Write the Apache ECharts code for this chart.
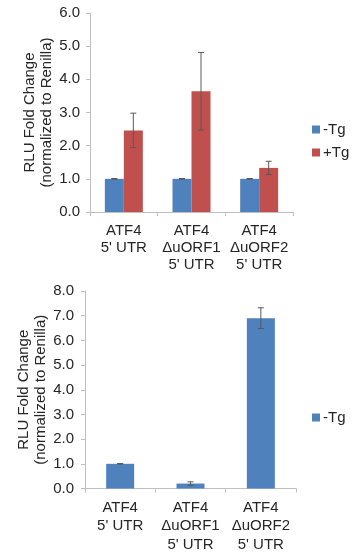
<!DOCTYPE html>
<html>
<head>
<meta charset="utf-8">
<script src="https://cdn.jsdelivr.net/npm/echarts@6/dist/echarts.min.js"></script>
<style>
  html, body { margin: 0; padding: 0; background: #fff; }
  #chart { width: 358px; height: 554px; }
</style>
</head>
<body>
<div id="chart"></div>
<script>
// 数据
var categories = ['ATF4\n5\' UTR', 'ATF4\nΔuORF1\n5\' UTR', 'ATF4\nΔuORF2\n5\' UTR']
var topMinusTg = [1.0, 1.0, 1.0]
var topMinusTgErr = [0.01, 0.01, 0.01]
var topPlusTg = [2.46, 3.64, 1.33]
var topPlusTgErr = [0.52, 1.17, 0.2]
var bottomMinusTg = [1.0, 0.2, 6.9]
var bottomMinusTgErr = [0.01, 0.07, 0.42]
var topTicks = [0, 6, 1]     // min, max, interval
var bottomTicks = [0, 8, 1]

var BLUE = '#4F81BD'
var RED = '#C0504D'
var AXIS = '#BFBFBF'
var TEXT = '#262626'
var FONT = 'Liberation Sans, Arial, sans-serif'

// 误差线 (custom series)
function errorSeries (name, idx, values, errs, offset) {
    return {
        type: 'custom',
        name: name,
        xAxisIndex: idx,
        yAxisIndex: idx,
        z: 5,
        silent: true,
        data: values.map(function (v, i) { return [i, v - errs[i], v + errs[i]] }),
        renderItem: function (params, api) {
            var lo = api.coord([api.value(0), api.value(1)])
            var hi = api.coord([api.value(0), api.value(2)])
            var x = lo[0] + offset
            var style = { stroke: '#595959', lineWidth: 1 }
            return {
                type: 'group',
                children: [
                    { type: 'line', shape: { x1: x, y1: lo[1], x2: x, y2: hi[1] }, style: style },
                    { type: 'line', shape: { x1: x - 3, y1: hi[1], x2: x + 3, y2: hi[1] }, style: style },
                    { type: 'line', shape: { x1: x - 3, y1: lo[1], x2: x + 3, y2: lo[1] }, style: style }
                ]
            }
        }
    }
}

function xAxis (idx, lh) {
    return {
        type: 'category',
        gridIndex: idx,
        data: categories,
        axisLine: { lineStyle: { color: AXIS } },
        axisTick: { show: true, length: 4, lineStyle: { color: AXIS } },
        axisLabel: { color: TEXT, fontFamily: FONT, fontSize: 15, lineHeight: lh, margin: 10, interval: 0 }
    }
}

function yAxis (idx, ticks, gap, margin) {
    return {
        type: 'value',
        gridIndex: idx,
        min: ticks[0],
        max: ticks[1],
        interval: ticks[2],
        name: 'RLU Fold Change\n(normalized to Renilla)',
        nameLocation: 'middle',
        nameRotate: 90,
        nameGap: gap,
        nameMoveOverlap: false,
        nameTextStyle: { color: TEXT, fontFamily: FONT, fontSize: 15, lineHeight: 17 },
        axisLine: { show: true, lineStyle: { color: AXIS } },
        axisTick: { show: true, length: 4, lineStyle: { color: AXIS } },
        splitLine: { show: false },
        axisLabel: {
            color: TEXT, fontFamily: FONT, fontSize: 15, margin: margin,
            formatter: function (v) { return v.toFixed(1) }
        }
    }
}

var chart = echarts.init(document.getElementById('chart'))
chart.setOption({
    animation: false,
    grid: [
        { left: 90, right: 65, top: 13, height: 199 },
        { left: 85, right: 62, top: 291, height: 199 }
    ],
    legend: [
        {
            data: ['-Tg', '+Tg'],
            orient: 'vertical',
            left: 307,
            top: 117,
            icon: 'rect',
            itemWidth: 8,
            itemHeight: 8,
            itemGap: 8,
            textStyle: { color: TEXT, fontFamily: FONT, fontSize: 15, padding: [0, 0, 0, -2] }
        },
        {
            data: [{ name: '-Tg ' }],
            orient: 'vertical',
            left: 307,
            top: 405,
            icon: 'rect',
            itemWidth: 8,
            itemHeight: 8,
            textStyle: { color: TEXT, fontFamily: FONT, fontSize: 15, padding: [0, 0, 0, -2] }
        }
    ],
    xAxis: [xAxis(0, 17), xAxis(1, 18.5)],
    yAxis: [yAxis(0, topTicks, 35, 10), yAxis(1, bottomTicks, 36, 11)],
    series: [
        {
            name: '-Tg', type: 'bar', xAxisIndex: 0, yAxisIndex: 0,
            data: topMinusTg, barWidth: 19, barGap: '0%',
            itemStyle: { color: BLUE }
        },
        {
            name: '+Tg', type: 'bar', xAxisIndex: 0, yAxisIndex: 0,
            data: topPlusTg, barWidth: 19, barGap: '0%',
            itemStyle: { color: RED }
        },
        errorSeries('errA', 0, topMinusTg, topMinusTgErr, -9.5),
        errorSeries('errB', 0, topPlusTg, topPlusTgErr, 9.5),
        {
            name: '-Tg ', type: 'bar', xAxisIndex: 1, yAxisIndex: 1,
            data: bottomMinusTg, barWidth: 28,
            itemStyle: { color: BLUE }
        },
        errorSeries('errC', 1, bottomMinusTg, bottomMinusTgErr, 0)
    ]
})
</script>
</body>
</html>
